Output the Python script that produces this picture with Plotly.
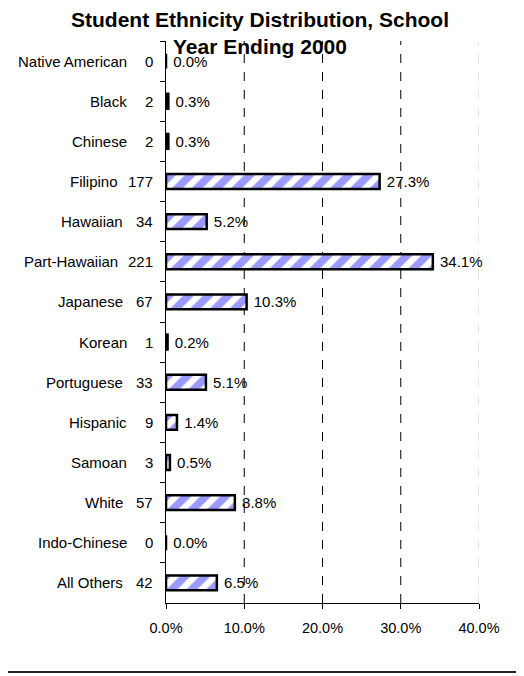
import plotly.graph_objects as go

categories = ["Native American", "Black", "Chinese", "Filipino", "Hawaiian", "Part-Hawaiian",
              "Japanese", "Korean", "Portuguese", "Hispanic", "Samoan", "White",
              "Indo-Chinese", "All Others"]
counts = [0, 2, 2, 177, 34, 221, 67, 1, 33, 9, 3, 57, 0, 42]
percents = [0.0, 0.3, 0.3, 27.3, 5.2, 34.1, 10.3, 0.2, 5.1, 1.4, 0.5, 8.8, 0.0, 6.5]
x_ticks = [0, 10, 20, 30, 40]
x_tick_labels = ["0.0%", "10.0%", "20.0%", "30.0%", "40.0%"]
title_lines = ["Student Ethnicity Distribution, School", "Year Ending 2000"]

FONT = "Liberation Sans, Arial, sans-serif"

# page has an 8px body margin; figure sized to fit the 524x676 window
OFF = 8
W, H = 524 - OFF, 676 - OFF
ML, MR, MT, MB = 158, 45, 33, 73
pw = W - ML - MR
ph = H - MT - MB


def px_x(fx):
    return (fx - ML) / pw


def px_y(fy):
    return (H - MB - fy) / ph


fig = go.Figure()
fig.add_trace(go.Bar(
    y=categories, x=percents, orientation="h",
    marker=dict(color="white", line=dict(color="black", width=2.5),
                pattern=dict(shape="/", fgcolor="#9999ff", bgcolor="white", size=14,
                             solidity=0.55, fgopacity=1)),
    text=[f"\u00a0{p:.1f}%" for p in percents], textposition="outside",
    constraintext="none",
    textfont=dict(family=FONT, size=15, color="black"),
    cliponaxis=False, width=0.37,
))

annotations = []
for c, n in zip(categories, counts):
    nd = len(str(n))
    annotations.append(dict(x=0, y=c, xref="x", yref="y", text=c, showarrow=False,
                            xanchor="right", xshift=-(37 + 4.5 * (nd - 1)),
                            font=dict(family=FONT, size=15, color="black")))
    annotations.append(dict(x=0, y=c, xref="x", yref="y", text=str(n), showarrow=False,
                            xanchor="right", xshift=-11,
                            font=dict(family=FONT, size=15, color="black")))

for line, fy in zip(title_lines, [11.5, 39.0]):
    annotations.append(dict(x=px_x(252), y=px_y(fy), xref="paper", yref="paper",
                            text=f"<b>{line}</b>", showarrow=False,
                            xanchor="center", yanchor="middle",
                            font=dict(family=FONT, size=21, color="black")))

shapes = []
for v in x_ticks[1:]:
    shapes.append(dict(type="line", xref="x", yref="paper", x0=v, x1=v, y0=0, y1=1,
                       line=dict(color="black" if v < 40 else "#c8c8c8", width=1, dash="dash"),
                       layer="below"))
# bottom border line
yb = px_y(664)
shapes.append(dict(type="line", xref="paper", yref="paper", x0=px_x(0), x1=px_x(W),
                   y0=yb, y1=yb, line=dict(color="#222222", width=2)))

fig.update_layout(
    width=W, height=H,
    margin=dict(l=ML, r=MR, t=MT, b=MB),
    paper_bgcolor="white", plot_bgcolor="white",
    showlegend=False,
    xaxis=dict(range=[0, 40], tickvals=x_ticks, ticktext=x_tick_labels, showgrid=False,
               zeroline=False, showline=True, linecolor="black", linewidth=1,
               ticks="outside", ticklen=5, tickcolor="black", ticklabelstandoff=7,
               tickfont=dict(family=FONT, size=14.5, color="black")),
    yaxis=dict(autorange="reversed", showticklabels=False, showgrid=False, zeroline=False,
               showline=True, linecolor="black", linewidth=1,
               ticks="outside", ticklen=5, tickcolor="black", tickson="boundaries"),
    annotations=annotations, shapes=shapes,
)

fig.write_html("out.html")
